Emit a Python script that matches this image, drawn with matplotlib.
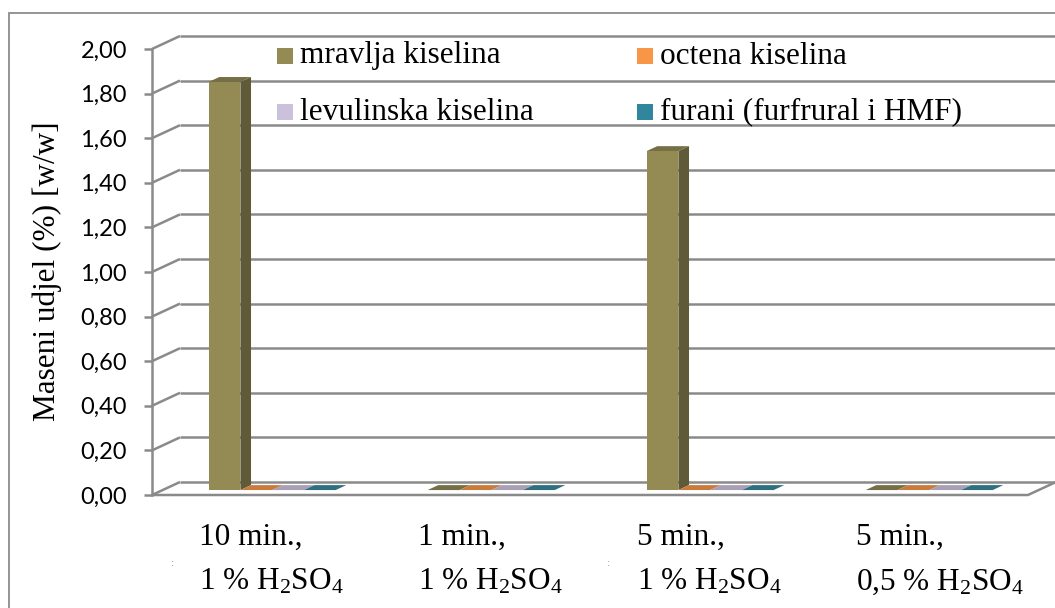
import numpy as np
import matplotlib
matplotlib.use('Agg')
import matplotlib.pyplot as plt
from matplotlib.patches import Polygon, Rectangle

# data
categories = [("10 min.,", "1 % H$_2$SO$_4$"),
              ("1 min.,", "1 % H$_2$SO$_4$"),
              ("5 min.,", "1 % H$_2$SO$_4$"),
              ("5 min.,", "0,5 % H$_2$SO$_4$")]
series = ["mravlja kiselina", "octena kiselina",
          "levulinska kiselina", "furani (furfrural i HMF)"]
mravlja = [1.83, 0.0, 1.52, 0.0]
octena = [0.0, 0.0, 0.0, 0.0]
levulinska = [0.0, 0.0, 0.0, 0.0]
furani = [0.0, 0.0, 0.0, 0.0]
values = [mravlja, octena, levulinska, furani]
yticks = np.arange(0, 2.01, 0.2)

front_cols = ['#948A54', '#F79646', '#CCC1DA', '#31859C']
top_cols = ['#756F45', '#C97B3C', '#A99FB6', '#2E6F80']
side_cols = ['#5F5A37', '#B8692F', '#8F86A0', '#23596A']

plt.rcParams['mathtext.fontset'] = 'custom'
plt.rcParams['mathtext.rm'] = 'Liberation Serif'
plt.rcParams['mathtext.it'] = 'Liberation Serif:italic'
serif = 'Liberation Serif'

W, H = 1055, 608
fig = plt.figure(figsize=(W / 100, H / 100), dpi=100)

# outer frame
fig.add_artist(Rectangle((9 / W, -0.1), 1.2, 1 - 13 / H + 0.1, transform=fig.transFigure,
                         fill=False, edgecolor='#8c8c8c', lw=1.3))

# front plane of the 3d box
x0, x1, y0, y1 = 152, 1028, 495, 49
ax = fig.add_axes([x0 / W, 1 - y0 / H, (x1 - x0) / W, (y0 - y1) / H])
ax.set_xlim(-0.5, 3.5)
ax.set_ylim(0, 2)
# depth vector in data units
dx = 28 / ((x1 - x0) / 4)
dy = 13 / ((y0 - y1) / 2)

grid_kw = dict(color='#8a8a8a', lw=1.8, clip_on=False, solid_capstyle='butt')
for v in yticks:
    ax.plot([-0.5, -0.5 + dx], [v, v + dy], **grid_kw)
    ax.plot([-0.5 + dx, 3.5 + dx], [v + dy, v + dy], **grid_kw)
# floor
ax.plot([-0.5, 3.5, 3.5 + dx], [0, 0, dy], **grid_kw)

for s in ['top', 'right', 'bottom']:
    ax.spines[s].set_visible(False)
ax.spines['left'].set_color('#8a8a8a')
ax.spines['left'].set_linewidth(1.8)
ax.set_xticks([])
ax.set_yticks(yticks)
ax.set_yticklabels([f"{v:.2f}".replace('.', ',') for v in yticks],
                   fontfamily='Lato', fontsize=17)
ax.tick_params(axis='y', length=5.5, width=1.8, color='#8a8a8a', pad=12.5)
ax.patch.set_alpha(0)

# bars
w = 0.145
f_front, f_back = 0.38, 0.76
for i in range(len(categories)):
    for j in range(len(series)):
        v = values[j][i]
        left = i + (j - 2) * w
        right = left + w
        ax_f, ay_f = f_front * dx, f_front * dy
        ax_b, ay_b = f_back * dx, f_back * dy
        if v > 0:
            ax.add_patch(Polygon([(right + ax_f, ay_f), (right + ax_b, ay_b),
                                  (right + ax_b, v + ay_b), (right + ax_f, v + ay_f)],
                                 closed=True, facecolor=side_cols[j], edgecolor='none', zorder=3))
            ax.add_patch(Polygon([(left + ax_f, v + ay_f), (left + ax_b, v + ay_b),
                                  (right + ax_b, v + ay_b), (right + ax_f, v + ay_f)],
                                 closed=True, facecolor=top_cols[j], edgecolor='none', zorder=3))
            ax.bar(left + ax_f, v, width=w, bottom=ay_f, align='edge',
                   color=front_cols[j], zorder=3)
        else:
            ax.add_patch(Polygon([(left + ax_f, ay_f), (left + ax_b, ay_b),
                                  (right + ax_b, ay_b), (right + ax_f, ay_f)],
                                 closed=True, facecolor=top_cols[j], edgecolor='none', zorder=3))

# category labels
for i, (l1, l2) in enumerate(categories):
    ax.text(i - 0.285, -0.095, l1, transform=ax.get_xaxis_transform(),
            fontfamily=serif, fontsize=22.5, ha='left', va='center')
    ax.text(i - 0.285, -0.195, l2, transform=ax.get_xaxis_transform(),
            fontfamily=serif, fontsize=22.5, ha='left', va='center')

# stray marks left over in the original picture
for px in (172, 608):
    fig.text(px / W, 1 - 563 / H, ':', fontsize=7, color='#999999', ha='center', va='center')

# legend
leg_pos = [(277, 56), (637, 56), (277, 112), (637, 112)]
for j, (px, py) in enumerate(leg_pos):
    fig.add_artist(Rectangle((px / W, 1 - (py + 8) / H), 16 / W, 16 / H,
                             transform=fig.transFigure, facecolor=front_cols[j],
                             edgecolor='none'))
    fig.text((px + 23) / W, 1 - py / H, series[j], fontfamily=serif, fontsize=22.5,
             ha='left', va='center')

fig.text(47 / W, 1 - 271 / H, "Maseni udjel (%) [w/w]", rotation=90,
         fontfamily=serif, fontsize=22.5, ha='center', va='center')

fig.savefig('out.png', dpi=100)
